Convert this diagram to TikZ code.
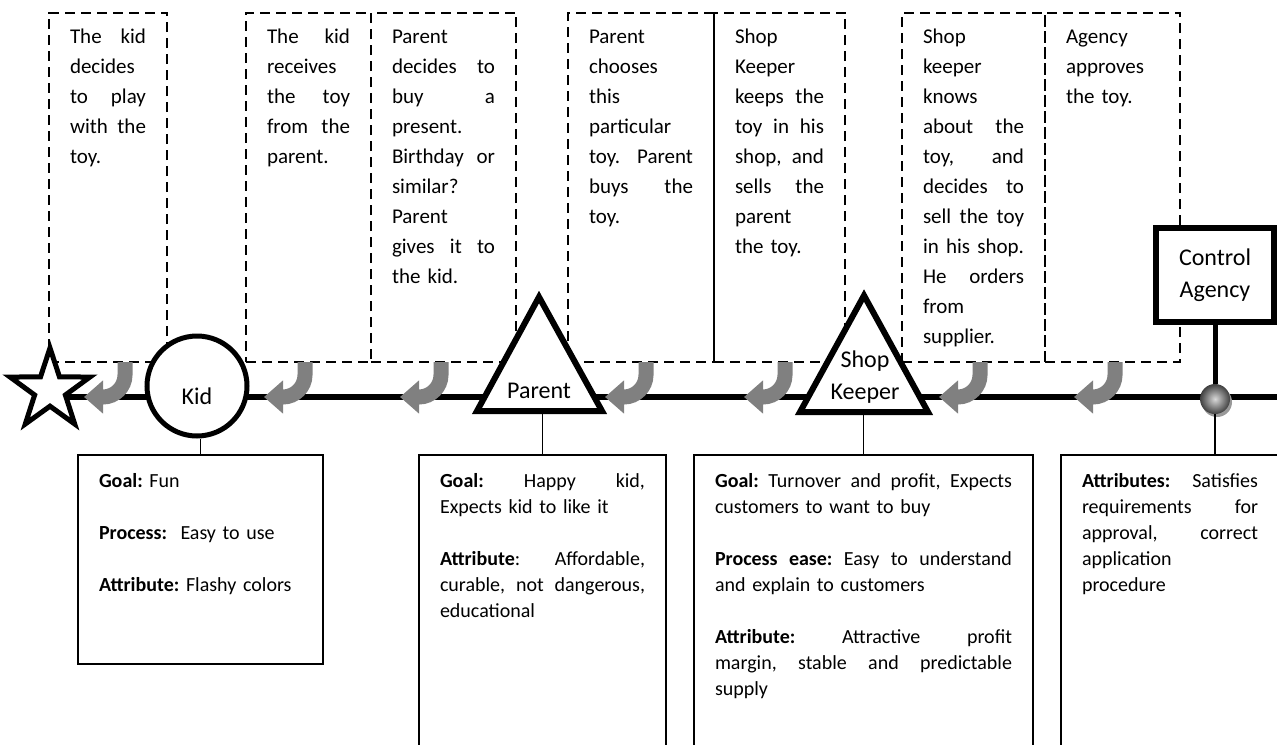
\documentclass[tikz,border=0pt]{standalone}
\usepackage{fontspec}
\setmainfont{Carlito}
\usepackage{tikz}
\usetikzlibrary{shapes,arrows.meta,positioning,shadows}

\frenchspacing
\newcommand{\fullline}[1]{{\spaceskip=0pt\xspaceskip=0pt\makebox[\hsize][s]{#1}}}

\begin{document}
\begin{tikzpicture}[x=0.5pt, y=-0.5pt,
    stepbox/.style={draw, line width=1pt, dash pattern=on 5pt off 3pt, outer sep=0pt,
        inner xsep=10.5pt, inner ysep=4.75pt, anchor=north west, align=left,
        text height=10.5pt, text depth=154.75pt, font=\fontsize{10.5}{15}\selectfont},
    infobox/.style={draw, line width=1pt, outer sep=0pt, inner xsep=10.5pt, inner ysep=5pt,
        anchor=north west, align=left, text height=11pt, text depth=140pt,
        font=\fontsize{10}{13}\selectfont},
    timeline/.style={line width=3pt},
    handoff/.style={draw=gray, line width=7.5pt, -{Triangle[length=9.5pt,width=16pt]}},
    goalstar/.style={star, star points=5, star point ratio=2.6, draw, fill=white,
        line width=2.5pt, minimum size=42pt, inner sep=0pt},
    ring/.style={circle, draw, fill=white, line width=2.5pt, minimum size=50pt, inner sep=0pt},
    peak/.style={draw, fill=white, line width=3pt, line join=miter},
    who/.style={font=\fontsize{12}{16}\selectfont, align=center, inner sep=0pt},
    agencybox/.style={draw, fill=white, line width=3pt, minimum width=59pt, minimum height=47pt,
        align=center, font=\fontsize{12}{16}\selectfont},
    stamp/.style={circle, minimum size=15pt, inner sep=0pt, shading=radial,
        inner color=gray!30, outer color=black!75,
        drop shadow={shadow xshift=1pt, shadow yshift=-1.5pt, fill=gray!80, opacity=1}},
    agencypost/.style={line width=2.5pt},
    link/.style={line width=0.75pt},
]
    \clip (0,0) rectangle (1277,744);

    % steps, read from right to left
    \node[stepbox, text width=38pt] (play) at (49,12.5)
        {\fullline{The kid}\\ decides\\ \fullline{to play}\\ \fullline{with the}\\ toy.};
    \node[stepbox, text width=41.5pt] (receive) at (246,12.5)
        {\fullline{The kid}\\ receives\\ \fullline{the toy}\\ \fullline{from the}\\ parent.};
    \node[stepbox, text width=51.5pt, right=0pt of receive] (present)
        {Parent\\ \fullline{decides to}\\ \fullline{buy a}\\ present.\\ \fullline{Birthday or}\\
         similar?\\ Parent\\ \fullline{gives it to}\\ the kid.};
    \node[stepbox, text width=52pt] (choose) at (568,12.5)
        {Parent\\ chooses\\ this\\ particular\\ \fullline{toy. Parent}\\ \fullline{buys the}\\ toy.};
    \node[stepbox, text width=44.5pt, right=0pt of choose] (sell)
        {Shop\\ Keeper\\ \fullline{keeps the}\\ \fullline{toy in his}\\ \fullline{shop, and}\\
         \fullline{sells the}\\ parent\\ the toy.};
    \node[stepbox, text width=50.5pt] (stock) at (902,12.5)
        {Shop\\ keeper\\ knows\\ \fullline{about the}\\ \fullline{toy, and}\\ \fullline{decides to}\\
         \fullline{sell the toy}\\ \fullline{in his shop.}\\ \fullline{He orders}\\ from\\ supplier.};
    \node[stepbox, text width=46.5pt, right=0pt of stock] (approve)
        {Agency\\ approves\\ the toy.};

    % time line
    \coordinate (linestart) at (50,397);
    \coordinate (lineend) at (1290,397);
    \draw[timeline] (linestart) -- (lineend);

    \foreach \x in {125,305,441,646,785,980,1115}
        \draw[handoff] (\x,362) -- (\x,375) .. controls (\x,387) and (\x-10,397) .. (\x-22,397) -- (\x-41,397);

    % actors
    \node[goalstar] (finish) at (50,390) {};

    \node[ring] (kid) at (197,386) {};
    \node[who] (kidname) at (197,396) {Kid};

    \coordinate (parenttop) at (539,297);
    \coordinate (parentbase) at (539,411);
    \draw[peak] (parenttop) -- (477,411) -- (602,411) -- cycle;
    \node[who] (parentname) at (539,391) {Parent};

    \coordinate (shoptop) at (864,295.5);
    \coordinate (shopbase) at (864,412);
    \draw[peak] (shoptop) -- (800,412) -- (928,412) -- cycle;
    \node[who] (shopname) at (865,377) {Shop\\Keeper};

    \node[agencybox] (agency) at (1215,275) {Control\\Agency};
    \node[stamp] (check) at (1215,399) {};
    \draw[agencypost] (agency) -- (check);

    % what each actor wants
    \node[infobox, text width=101.5pt, text depth=83.5pt] (kidinfo) at (78,455)
        {\textbf{Goal:} Fun\\[13pt] \textbf{Process:}~ Easy to use\\[13pt] \textbf{Attribute:} Flashy colors};
    \node[infobox, text width=102.5pt] (parentinfo) at (419,455)
        {\fullline{\textbf{Goal:} Happy kid,}\\ Expects kid to like it\\[13pt]
         \fullline{\textbf{Attribute}: Affordable,}\\ \fullline{curable, not dangerous,}\\ educational};
    \node[infobox, text width=148.5pt] (shopinfo) at (694,455)
        {\fullline{\textbf{Goal:} Turnover and profit, Expects}\\ customers to want to buy\\[13pt]
         \fullline{\textbf{Process ease:} Easy to understand}\\ and explain to customers\\[13pt]
         \fullline{\textbf{Attribute:} Attractive profit}\\ \fullline{margin, stable and predictable}\\ supply};
    \node[infobox, text width=88pt] (agencyinfo) at (1061,455)
        {\fullline{\textbf{Attributes:} Satisfies}\\ \fullline{requirements for}\\
         \fullline{approval, correct}\\ application\\ procedure};

    \draw[link] (kidinfo.north |- kid.south) -- (kidinfo.north);
    \draw[link] (parentinfo.north |- parentbase) -- (parentinfo.north);
    \draw[link] (shopinfo.north |- shopbase) -- (shopinfo.north);
    \draw[link] (check) -- (check |- agencyinfo.north);
\end{tikzpicture}
\end{document}
